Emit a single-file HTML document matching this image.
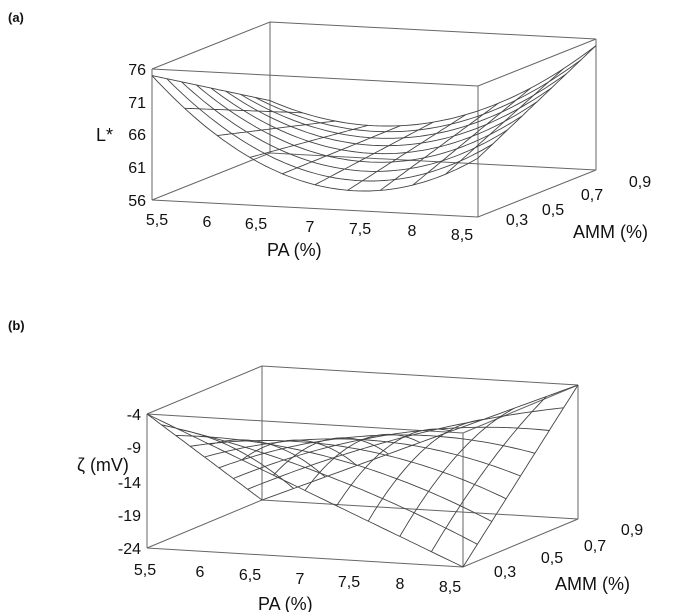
<!DOCTYPE html><html><head><style>body{margin:0;background:#fff}svg{display:block}text{font-family:"Liberation Sans",sans-serif;fill:#111}</style></head><body>
<svg id="s" width="696" height="612" xmlns="http://www.w3.org/2000/svg">
<text x="8" y="22" font-size="13" font-weight="bold">(a)</text>
<text x="8" y="330" font-size="13" font-weight="bold">(b)</text>
<g font-size="16" text-anchor="end">
<text x="146" y="75">76</text><text x="146" y="108">71</text><text x="146" y="140">66</text><text x="146" y="173">61</text><text x="146" y="206">56</text>
<text x="141" y="420">-4</text><text x="141" y="453">-9</text><text x="141" y="488">-14</text><text x="141" y="521">-19</text><text x="141" y="554">-24</text>
</g>
<text x="96" y="141" font-size="18">L*</text>
<text x="77" y="471" font-size="18">ζ (mV)</text>
<g font-size="16" text-anchor="middle">
<text x="157" y="225">5,5</text><text x="207" y="227">6</text><text x="256" y="229">6,5</text><text x="310" y="232">7</text><text x="360" y="234">7,5</text><text x="412" y="236">8</text><text x="462" y="240">8,5</text>
<text x="517" y="225">0,3</text><text x="553" y="215">0,5</text><text x="592" y="200">0,7</text><text x="640" y="187">0,9</text>
<text x="145" y="575">5,5</text><text x="200" y="577">6</text><text x="250" y="580">6,5</text><text x="300" y="584">7</text><text x="349" y="587">7,5</text><text x="400" y="589">8</text><text x="450" y="592">8,5</text>
<text x="505" y="577">0,3</text><text x="552" y="563">0,5</text><text x="595" y="551">0,7</text><text x="632" y="535">0,9</text>
</g>
<text x="267" y="256" font-size="18">PA (%)</text>
<text x="573" y="238" font-size="18">AMM (%)</text>
<text x="258" y="610" font-size="18">PA (%)</text>
<text x="555" y="590" font-size="18">AMM (%)</text>
<g id="g" fill="none" stroke="#444" stroke-width="0.9"></g>
</svg>
<script>
var g=document.getElementById('g'),NS='http://www.w3.org/2000/svg';
function pl(pts,w,c){var p=document.createElementNS(NS,'polyline');p.setAttribute('points',pts.map(function(q){return q[0].toFixed(1)+','+q[1].toFixed(1)}).join(' '));if(w)p.setAttribute('stroke-width',w);if(c)p.setAttribute('stroke',c);g.appendChild(p);}
function chart(o,du,dv,H,zmin,f){
 function P(u,v,z){return[o[0]+u*du[0]+v*dv[0],o[1]+u*du[1]+v*dv[1]-(z-zmin)/20*H];}
 pl([P(0,0,zmin),P(1,0,zmin),P(1,1,zmin),P(0,1,zmin),P(0,0,zmin)],1,'#666');
 pl([P(0,0,zmin+20),P(1,0,zmin+20),P(1,1,zmin+20),P(0,1,zmin+20),P(0,0,zmin+20)],1,'#666');
 [[0,0],[1,0],[1,1],[0,1]].forEach(function(c){pl([P(c[0],c[1],zmin),P(c[0],c[1],zmin+20)],1,'#666');});
 var i,j,a;
 for(i=0;i<=10;i++){a=[];for(j=0;j<=40;j++)a.push(P(i/10,j/40,f(i/10,j/40)));pl(a);}
 for(i=0;i<=8;i++){a=[];for(j=0;j<=60;j++)a.push(P(j/60,i/8,f(j/60,i/8)));pl(a);}
}
chart([152,200],[326,17],[118,-47],131,56,function(u,v){var f0=75-51.5*u+41.5*u*u,f1=64-19*u+30*u*u;return (1-v)*f0+v*f1;});
chart([147,548],[316,19],[115,-48],134,-24,function(u,v){var s=1-2*u,t=1-2*v;return -14+10*s*t+4*(1-s*s)*(1-t*t);});
</script>
</body></html>
